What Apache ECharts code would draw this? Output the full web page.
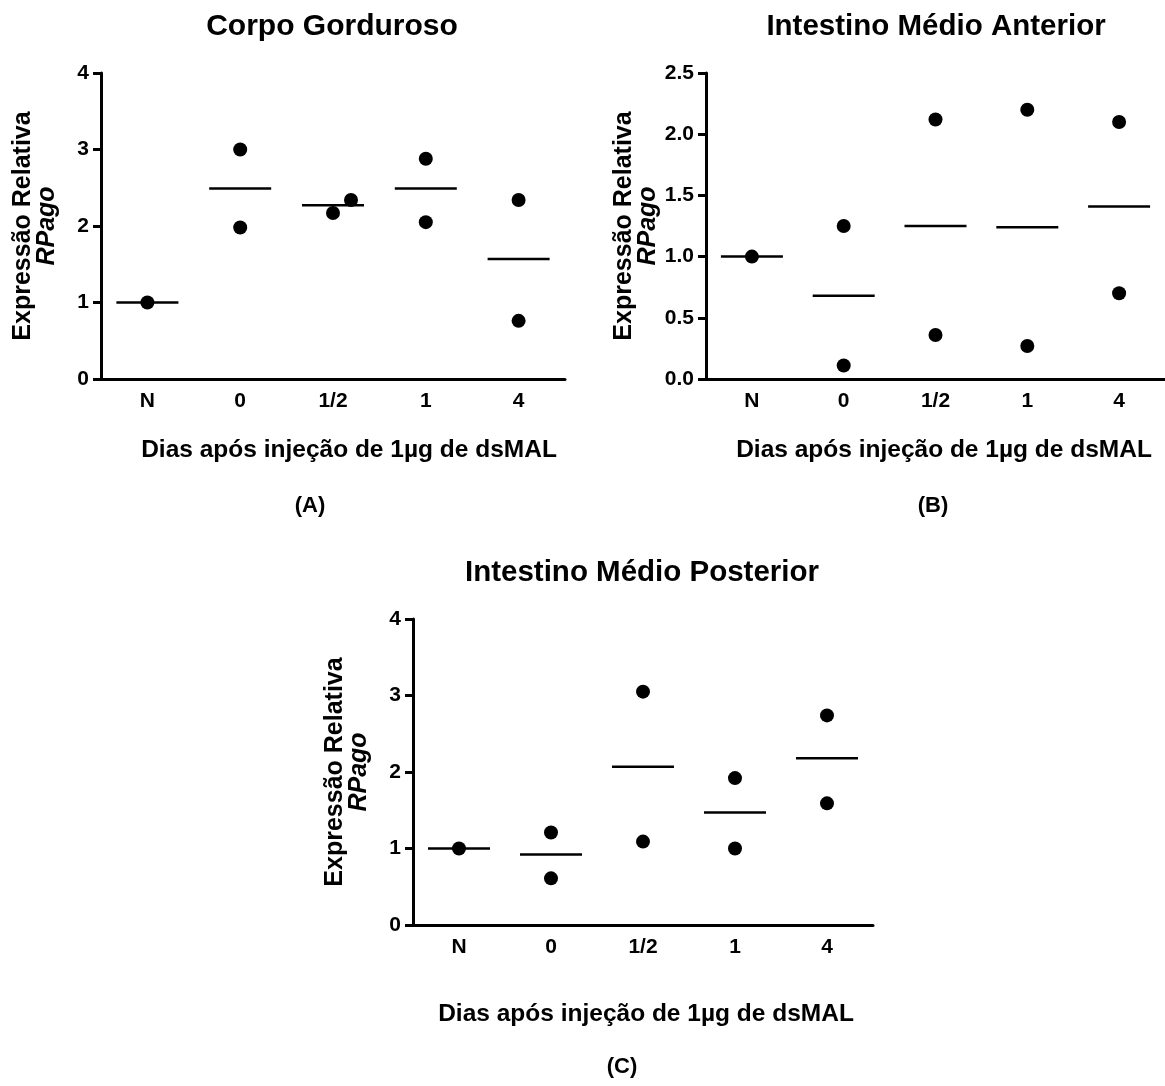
<!DOCTYPE html>
<html>
<head>
<meta charset="utf-8">
<script src="https://cdn.jsdelivr.net/npm/echarts@6/dist/echarts.min.js"></script>
<style>
  html, body { margin: 0; padding: 0; background: #fff; }
  #chart { width: 1165px; height: 1086px; }
</style>
</head>
<body>
<div id="chart"></div>
<script>
const categories = ['N', '0', '1/2', '1', '4']

// (A) Corpo Gorduroso
const aDots1 = [1.0, 3.0, 2.17, 2.88, 2.34]
const aDots2 = [null, 1.98, 2.34, 2.05, 0.76]
const aMeans = [1.0, 2.49, 2.27, 2.49, 1.57]

// (B) Intestino Médio Anterior
const bDots1 = [1.0, 1.25, 2.12, 2.2, 2.1]
const bDots2 = [null, 0.11, 0.36, 0.27, 0.7]
const bMeans = [1.0, 0.68, 1.25, 1.24, 1.41]

// (C) Intestino Médio Posterior
const cDots1 = [1.0, 1.21, 3.05, 1.92, 2.74]
const cDots2 = [null, 0.61, 1.09, 1.0, 1.59]
const cMeans = [1.0, 0.92, 2.07, 1.47, 2.18]

const yTicksA = [0, 4, 1]
const yTicksB = [0, 2.5, 0.5]
const yTicksC = [0, 4, 1]

const FONT = "'Liberation Sans', Arial, sans-serif"

// points that would overlap are pushed sideways, like the original plot
function dotData(first, second, max) {
  const out = []
  first.forEach((v, i) => {
    out.push([i, v])
    const w = second[i]
    if (w == null) return
    if (Math.abs(w - v) / max < 0.06) {
      out.push({ value: [i, w], symbolOffset: [18, 0] })
    } else {
      out.push([i, w])
    }
  })
  return out
}

const grids = [
  { left: 101, top: 73, width: 464, height: 306 },
  { left: 706, top: 73, width: 459, height: 306 },
  { left: 413, top: 619, width: 460, height: 306 },
]

function xAxisFor(idx) {
  return {
    type: 'category',
    gridIndex: idx,
    data: categories,
    axisLine: { lineStyle: { color: '#000', width: 3 } },
    axisTick: { alignWithLabel: true, length: 7, lineStyle: { color: '#000', width: 3 } },
    axisLabel: { color: '#000', fontFamily: FONT, fontWeight: 'bold', fontSize: 21, margin: 12 },
    splitLine: { show: false },
  }
}

function yAxisFor(idx, ticks, decimals) {
  return {
    type: 'value',
    gridIndex: idx,
    min: ticks[0],
    max: ticks[1],
    interval: ticks[2],
    name: '{a|Expressão Relativa}\n{b|RPago}',
    nameLocation: 'middle',
    nameRotate: 90,
    nameGap: 42,
    nameTextStyle: {
      rich: {
        a: { fontFamily: FONT, fontWeight: 'bold', fontSize: 25, color: '#000', lineHeight: 24, align: 'center' },
        b: { fontFamily: FONT, fontWeight: 'bold', fontStyle: 'italic', fontSize: 25, color: '#000', lineHeight: 24, align: 'center' },
      },
    },
    axisLine: { show: true, lineStyle: { color: '#000', width: 3 } },
    axisTick: { show: true, length: 8, lineStyle: { color: '#000', width: 3 } },
    axisLabel: {
      color: '#000', fontFamily: FONT, fontWeight: 'bold', fontSize: 21, margin: 12,
      formatter: v => v.toFixed(decimals),
    },
    splitLine: { show: false },
  }
}

function seriesFor(idx, d1, d2, means, max) {
  return [
    {
      type: 'scatter',
      xAxisIndex: idx,
      yAxisIndex: idx,
      symbol: 'circle',
      symbolSize: 14,
      itemStyle: { color: '#000', opacity: 1 },
      data: dotData(d1, d2, max),
      z: 3,
    },
    {
      type: 'scatter',
      xAxisIndex: idx,
      yAxisIndex: idx,
      symbol: 'rect',
      symbolSize: [62, 2.5],
      itemStyle: { color: '#000', opacity: 1 },
      data: means.map((m, i) => [i, m]),
      z: 2,
    },
  ]
}

function label(text, x, y, size) {
  return {
    type: 'text',
    x: x,
    y: y,
    style: {
      text: text,
      font: 'bold ' + size + 'px ' + FONT,
      fill: '#000',
      align: 'center',
      verticalAlign: 'middle',
      textAlign: 'center',
      textVerticalAlign: 'middle',
    },
  }
}

const chart = echarts.init(document.getElementById('chart'), null, { renderer: 'canvas' })
chart.setOption({
  animation: false,
  backgroundColor: '#fff',
  grid: grids.map(g => Object.assign({ containLabel: false, outerBoundsMode: 'none' }, g)),
  xAxis: [xAxisFor(0), xAxisFor(1), xAxisFor(2)],
  yAxis: [yAxisFor(0, yTicksA, 0), yAxisFor(1, yTicksB, 1), yAxisFor(2, yTicksC, 0)],
  series: [
    ...seriesFor(0, aDots1, aDots2, aMeans, yTicksA[1]),
    ...seriesFor(1, bDots1, bDots2, bMeans, yTicksB[1]),
    ...seriesFor(2, cDots1, cDots2, cMeans, yTicksC[1]),
  ],
  graphic: [
    label('Corpo Gorduroso', 332, 27, 30),
    label('Intestino Médio Anterior', 936, 27, 29.5),
    label('Intestino Médio Posterior', 642, 573, 29.5),
    label('Dias após injeção de 1µg de dsMAL', 349, 450, 24.5),
    label('Dias após injeção de 1µg de dsMAL', 944, 450, 24.5),
    label('Dias após injeção de 1µg de dsMAL', 646, 1014, 24.5),
    label('(A)', 310, 506, 22),
    label('(B)', 933, 506, 22),
    label('(C)', 622, 1067, 22),
  ],
})
</script>
</body>
</html>
